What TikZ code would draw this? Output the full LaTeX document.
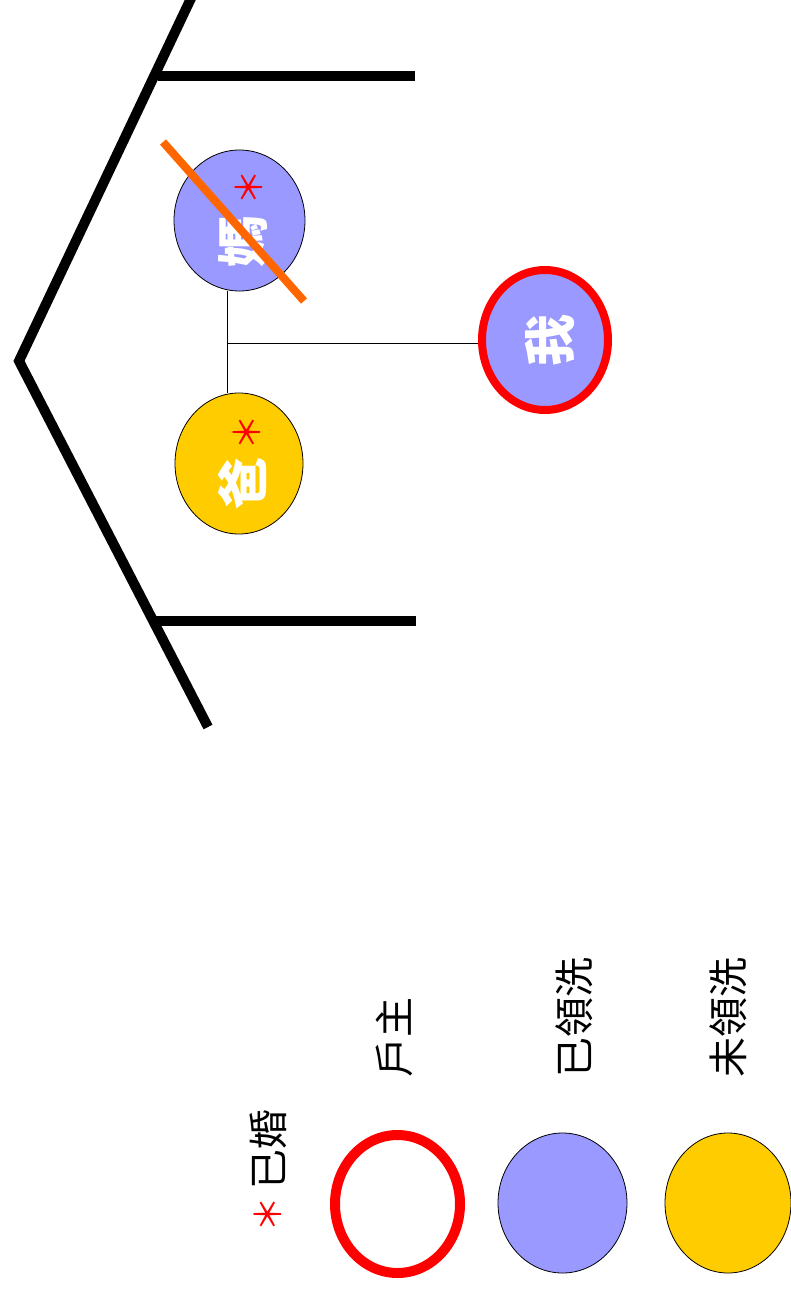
\documentclass[tikz,border=0pt]{standalone}
\usepackage{fontspec}
\newfontfamily\cjk{Noto Sans CJK TC}
\definecolor{lblue}{HTML}{9999FF}
\definecolor{gold}{HTML}{FFCC00}
\definecolor{rred}{HTML}{FF0000}
\definecolor{oorange}{HTML}{FF6600}
\begin{document}
\begin{tikzpicture}[x=1pt,y=-1pt,
  frame/.style={line width=10pt,black},
  person/.style={ellipse,draw=black,line width=0.8pt,inner sep=0pt},
  glyph/.style={rotate=90,text=white,font=\cjk\bfseries\fontsize{52}{52}\selectfont,inner sep=0pt},
  star/.style={rotate=90,text=rred,font=\cjk\fontsize{36}{36}\selectfont,inner sep=0pt},
  legtext/.style={rotate=90,anchor=west,font=\cjk\fontsize{40}{40}\selectfont,inner sep=0pt},
  link/.style={line width=0.8pt,black}]
\usetikzlibrary{shapes.geometric}
\useasboundingbox (0,0) rectangle (791,1289);
\fill[white] (0,0) rectangle (791,1289);
% frame
\coordinate (ftop) at (194,-8);
\coordinate (fv) at (19,361);
\coordinate (fbot) at (208,727);
\coordinate (h1a) at (158,76);
\coordinate (h1b) at (415,76);
\coordinate (h2a) at (153,621);
\coordinate (h2b) at (416,621);
\draw[frame,line join=miter] (ftop) -- (fv) -- (fbot);
\draw[frame] (h1a) -- (h1b);
\draw[frame] (h2a) -- (h2b);
% persons
\node[person,fill=lblue,minimum width=131pt,minimum height=141pt] (mom) at (239.5,220.5) {};
\node[person,fill=gold,minimum width=128pt,minimum height=141pt] (dad) at (239,463.5) {};
\node[ellipse,draw=rred,line width=8pt,fill=lblue,inner sep=0pt,minimum width=126pt,minimum height=140pt] (me) at (545,340) {};
\node[glyph] (momc) at (243,241) {媽};
\node[glyph] (dadc) at (242,483) {爸};
\node[glyph] (mec) at (550,340) {我};
\node[star] (mst) at (249,188) {＊};
\node[star] (dst) at (247,432) {＊};
% connectors
\coordinate (j) at (227,343);
\draw[link] (mom.south -| j) -- (dad.north -| j);
\draw[link] (j) -- (j -| me.west);
% cross-out
\coordinate (xa) at (163,142);
\coordinate (xb) at (304,301);
\draw[oorange,line width=8pt] (xa) -- (xb);
% legend
\node[star] (lst) at (268,1214) {＊};
\node[legtext] (lmar) at (268,1190) {已婚};
\node[ellipse,draw=rred,line width=10pt,fill=white,inner sep=0pt,minimum width=125pt,minimum height=138pt] (lhead) at (397.5,1204) {};
\node[legtext] (lhead t) at (394,1078) {戶主};
\node[person,fill=lblue,minimum width=129pt,minimum height=140pt] (lbap) at (562.5,1203) {};
\node[legtext] (lbap t) at (574,1078) {已領洗};
\node[person,fill=gold,minimum width=126pt,minimum height=140pt] (lnob) at (728,1203) {};
\node[legtext] (lnob t) at (728,1078) {未領洗};
\end{tikzpicture}
\end{document}
